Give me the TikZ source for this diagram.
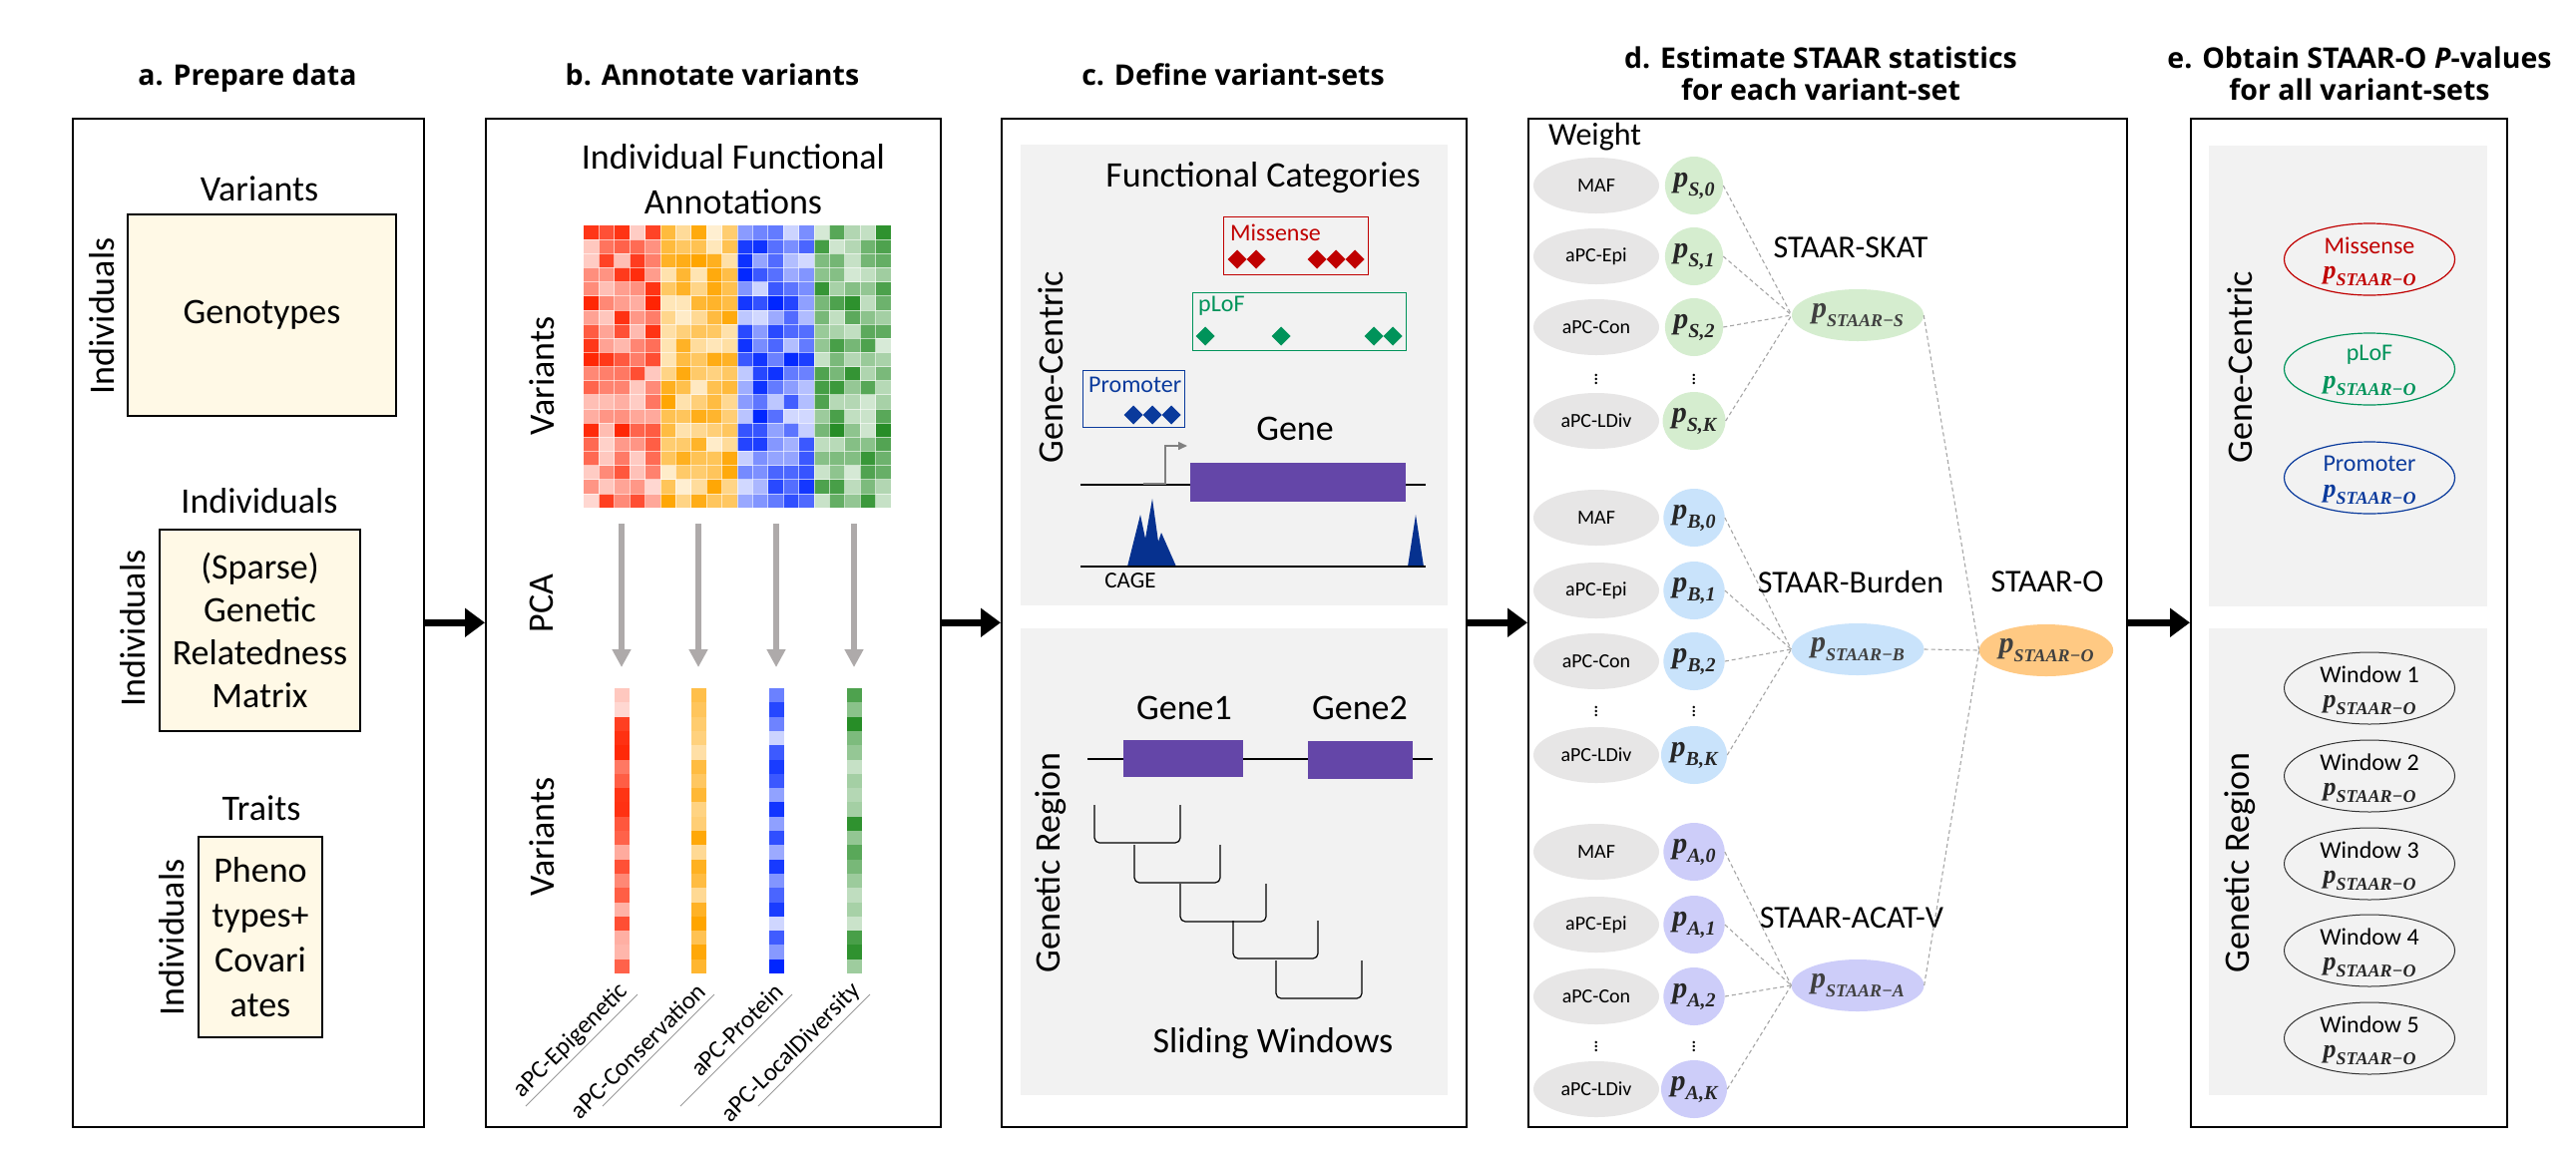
\documentclass[tikz,border=0pt]{standalone}
\usepackage{fontspec}
\setmainfont{Carlito}
\newfontfamily\titlefont{Open Sans}
\newfontfamily\mfont{Liberation Serif}
\usetikzlibrary{arrows.meta,shapes.geometric}

\definecolor{panelgray}{HTML}{F2F2F2}
\definecolor{cream}{HTML}{FFF9E6}
\definecolor{geneP}{HTML}{6446A8}
\definecolor{mred}{HTML}{C00000}
\definecolor{mgreen}{HTML}{00935A}
\definecolor{mblue}{HTML}{0A3A9C}
\definecolor{cage}{HTML}{06318F}
\definecolor{wgray}{HTML}{E7E6E6}
\definecolor{sgreen}{HTML}{D5EDCF}
\definecolor{bblue}{HTML}{C9E3FB}
\definecolor{apurple}{HTML}{CDCDF9}
\definecolor{oorange}{HTML}{FFC983}
\definecolor{arrowgray}{HTML}{AEAAAA}
\definecolor{hred}{HTML}{FF2200}
\definecolor{horange}{HTML}{FFA500}
\definecolor{hblue}{HTML}{0026FF}
\definecolor{hgreen}{HTML}{228B22}

\newcommand{\fsz}[2]{\fontsize{#1}{#2}\selectfont}
\newcommand{\pp}[3]{{\fsz{#1}{#1}\mfont\bfseries\itshape p\raisebox{-0.3em}{\fsz{#2}{#2}#3}}}

\tikzset{
 panel/.style={draw=black, line width=1.5, inner sep=0, anchor=north west},
 ttl/.style={font=\titlefont\bfseries\fsz{28.5}{33}, anchor=base, inner sep=0},
 body/.style={font=\fsz{36}{43}, inner sep=0, align=center},
 rot/.style={body, rotate=90},
 ybox/.style={draw=black, line width=1.2, fill=cream},
 bigarrow/.style={line width=7, -{Triangle[length=20pt,width=28pt]}},
 pcaarrow/.style={line width=6, draw=arrowgray, -{Triangle[length=18pt,width=18pt]}},
 wnode/.style={ellipse, fill=wgray, minimum width=126pt, minimum height=56pt, inner sep=0, font=\fsz{20}{24}},
 pnode/.style={ellipse, minimum width=56pt, minimum height=58pt, inner sep=0, text=black!85},
 snode/.style={ellipse, minimum width=132pt, minimum height=52pt, inner sep=0, text=black!75},
 conn/.style={draw=black!35, dash pattern=on 4pt off 3pt, line width=1.1},
 lab/.style={font=\fsz{32}{38}, inner sep=0},
 eres/.style={ellipse, minimum width=171pt, minimum height=72pt, inner sep=0, line width=1.2},
 etxt/.style={font=\fsz{24}{24}, inner sep=0},
 catbox/.style={line width=1.2, inner sep=0, anchor=north west},
 cattxt/.style={font=\fsz{24}{24}, inner sep=0, anchor=west},
 apclab/.style={font=\fsz{25}{25}, inner sep=0, anchor=east, rotate=45},
}

\begin{document}
\begin{tikzpicture}[x=1pt,y=-1pt]
\useasboundingbox (0,0) rectangle (2582,1152);
\fill[white] (0,0) rectangle (2582,1152);

% ---------- titles
\node[ttl] (ta) at (248,85) {a. Prepare data};
\node[ttl] (tb) at (714,85) {b. Annotate variants};
\node[ttl] (tc) at (1236,85) {c. Define variant-sets};
\node[ttl] (td1) at (1825,68) {d. Estimate STAAR statistics};
\node[ttl] (td2) at (1825,100) {for each variant-set};
\node[ttl] (te1) at (2365,68) {e. Obtain STAAR-O \textit{P}-values};
\node[ttl] (te2) at (2365,100) {for all variant-sets};

% ---------- panels
\node[panel, minimum width=352pt, minimum height=1011pt] (pa) at (72,118) {};
\node[panel, minimum width=456pt, minimum height=1011pt] (pb) at (486,118) {};
\node[panel, minimum width=466pt, minimum height=1011pt] (pc) at (1003,118) {};
\node[panel, minimum width=600pt, minimum height=1011pt] (pd) at (1531,118) {};
\node[panel, minimum width=317pt, minimum height=1011pt] (pe) at (2195,118) {};

\draw[bigarrow] (pa.east) -- (pb.west);
\draw[bigarrow] (pb.east) -- (pc.west);
\draw[bigarrow] (pc.east) -- (pd.west);
\draw[bigarrow] (pd.east) -- (pe.west);

% ---------- panel a
\node[body] (va) at (260,189) {Variants};
\node[ybox, body, minimum width=269pt, minimum height=202pt] (geno) at (262.5,316) {Genotypes};
\node[rot] (ia1) at (102,317) {Individuals};
\node[body] (ih) at (260,502) {Individuals};
\node[ybox, body, minimum width=201pt, minimum height=202pt] (grm) at (260.5,632) {(Sparse)\\Genetic\\Relatedness\\Matrix};
\node[rot] (ia2) at (133,630) {Individuals};
\node[body] (tr) at (262,810) {Traits};
\node[ybox, body, minimum width=124pt, minimum height=201pt, font=\fsz{36}{45}] (trb) at (261,939.5) {Pheno\\types+\\Covari\\ates};
\node[rot] (ia3) at (172,940) {Individuals};

% ---------- panel b
\node[body, font=\fsz{36}{45}] (ifa) at (735,180) {Individual Functional\\Annotations};
\pgfmathsetseed{11}
\foreach \blk/\hc in {0/hred,1/horange,2/hblue,3/hgreen}{
  \foreach \c in {0,...,4}{
    \foreach \r in {0,...,19}{
      \pgfmathrandominteger{\p}{18}{100}
      \fill[\hc!\p!white] ({585+77*\blk+15.4*\c},{226+14.15*\r}) rectangle ++(15.4,14.15);
    }}}
\foreach \i in {1,...,19}{
  \draw[white, line width=0.7, opacity=0.6] ({585+15.4*\i},226) -- ({585+15.4*\i},509);
  \draw[white, line width=0.7, opacity=0.6] (585,{226+14.15*\i}) -- (893,{226+14.15*\i});
}
\node[rot] (vb1) at (543,377) {Variants};
\node[rot] (pca) at (543,605) {PCA};
\node[rot] (vb2) at (543,839) {Variants};
\foreach \hc/\cx in {hred/623,horange/700,hblue/778,hgreen/856}{
  \draw[pcaarrow] (\cx,525) -- (\cx,669);
  \foreach \r in {0,...,19}{
    \pgfmathrandominteger{\p}{18}{100}
    \fill[\hc!\p!white] ({\cx-7.5},{690+14.3*\r}) rectangle ++(15,14.3);
  }
  \draw[black!40, line width=0.9] ({\cx+16},997) -- ({\cx-96},1109);
}
\node[apclab] (l1) at (626,990) {aPC-Epigenetic};
\node[apclab] (l2) at (703,990) {aPC-Conservation};
\node[apclab] (l3) at (781,990) {aPC-Protein};
\node[apclab] (l4) at (859,990) {aPC-LocalDiversity};

% ---------- panel c
\fill[panelgray] (1023,145) rectangle (1451,607);
\fill[panelgray] (1023,630) rectangle (1451,1098);
\node[rot] (gc1) at (1053,368) {Gene-Centric};
\node[rot] (gr1) at (1053,865) {Genetic Region};
\node[body] (fc) at (1266,178) {Functional Categories};
\node[catbox, draw=mred, minimum width=145pt, minimum height=58pt] (mis) at (1226,217) {};
\node[cattxt, text=mred] (mist) at (1233,233) {Missense};
\foreach \x in {1240,1259,1320,1339,1358}
  \fill[mred] (\x,250.5) -- ({\x+9.5},260) -- (\x,269.5) -- ({\x-9.5},260) -- cycle;
\node[catbox, draw=mgreen, minimum width=214pt, minimum height=58pt] (plof) at (1195,293) {};
\node[cattxt, text=mgreen] (plt) at (1201,307) {pLoF};
\foreach \x in {1208,1284,1377,1396}
  \fill[mgreen] (\x,327.5) -- ({\x+9.5},337) -- (\x,346.5) -- ({\x-9.5},337) -- cycle;
\node[catbox, draw=mblue, minimum width=102pt, minimum height=57pt] (prom) at (1085,371) {};
\node[cattxt, text=mblue] (prt) at (1091,386) {Promoter};
\foreach \x in {1136,1155,1174}
  \fill[mblue] (\x,406.5) -- ({\x+9.5},416) -- (\x,425.5) -- ({\x-9.5},416) -- cycle;
\node[body] (gene) at (1298,430) {Gene};
\draw[line width=1.2] (1083,486) -- (1429,486);
\fill[geneP] (1193,464) rectangle (1409,503);
\draw[black!50, line width=1.5, -{Triangle[length=9pt,width=8pt]}] (1146,485) -- (1168,485) -- (1168,447) -- (1190,447);
\fill[cage] (1130,568) -- (1143,516) -- (1148,540) -- (1155,500) -- (1161,543) -- (1164,534) -- (1179,568) -- cycle;
\fill[cage] (1411,568) -- (1419,516) -- (1427,568) -- cycle;
\draw[line width=1.2] (1083,568) -- (1429,568);
\node[font=\fsz{23}{23}, inner sep=0] (cg) at (1133,582) {CAGE};

\node[body] (g1) at (1187,710) {Gene1};
\node[body] (g2) at (1363,710) {Gene2};
\draw[line width=1.2] (1090,761) -- (1436,761);
\fill[geneP] (1126,742) rectangle (1246,779);
\fill[geneP] (1311,743) rectangle (1416,781);
\foreach \xa/\ya/\xb/\yb in {1097/807/1183/845, 1137/847/1223/885, 1183/886/1269/924, 1236/923/1321/961, 1279/963/1365/1001}
  \draw[line width=1.2, rounded corners=5] (\xa,\ya) -- (\xa,\yb) -- (\xb,\yb) -- (\xb,\ya);
\node[body] (sw) at (1276,1046) {Sliding Windows};

% ---------- panel d
\node[lab, anchor=west] (wt) at (1552,137) {Weight};
\foreach \g/\col/\ya/\yb/\yc/\yd/\ye in {S/sgreen/186/257/328/377/422, B/bblue/519/592/663/710/757, A/apurple/854/927/999/1046/1092}{
  \node[wnode] (w\g0) at (1600,\ya) {MAF};
  \node[wnode] (w\g1) at (1600,\yb) {aPC-Epi};
  \node[wnode] (w\g2) at (1600,\yc) {aPC-Con};
  \node[font=\fsz{20}{20}, inner sep=0] (dw\g) at (1600,\yd) {$\vdots$};
  \node[wnode] (w\g K) at (1600,\ye) {aPC-LDiv};
  \node[pnode, fill=\col] (p\g0) at (1698,\ya) {\pp{30}{20}{\g,0}};
  \node[pnode, fill=\col] (p\g1) at (1698,\yb) {\pp{30}{20}{\g,1}};
  \node[pnode, fill=\col] (p\g2) at (1698,\yc) {\pp{30}{20}{\g,2}};
  \node[font=\fsz{20}{20}, inner sep=0] (dp\g) at (1698,\yd) {$\vdots$};
  \node[pnode, fill=\col] (p\g K) at (1698,\ye) {\pp{30}{20}{\g,K}};
}
\node[lab] (lS) at (1855,248) {STAAR-SKAT};
\node[snode, fill=sgreen] (sS) at (1862,316) {\pp{30}{18}{STAAR−S}};
\node[lab] (lB) at (1855,583) {STAAR-Burden};
\node[snode, fill=bblue] (sB) at (1862,651) {\pp{30}{18}{STAAR−B}};
\node[lab] (lA) at (1856,920) {STAAR-ACAT-V};
\node[snode, fill=apurple] (sA) at (1862,988) {\pp{30}{18}{STAAR−A}};
\node[lab] (lO) at (2052,583) {STAAR-O};
\node[snode, fill=oorange] (sO) at (2051,652) {\pp{30}{18}{STAAR−O}};
\foreach \g in {S,B,A}{
  \foreach \k in {0,1,2,K}
    \draw[conn] (p\g\k.east) -- (s\g.west);
  \draw[conn] (s\g.east) -- (sO.west);
}

% ---------- panel e
\fill[panelgray] (2214,146) rectangle (2493,608);
\fill[panelgray] (2214,630) rectangle (2493,1098);
\node[rot] (gc2) at (2245,368) {Gene-Centric};
\node[rot] (gr2) at (2245,865) {Genetic Region};
\foreach \nm/\txt/\col/\yy in {eM/Missense/mred/260, eL/pLoF/mgreen/370, eP/Promoter/mblue/479}{
  \node[eres, draw=\col] (\nm) at (2375,\yy) {};
  \node[etxt, text=\col] (\nm t) at (2375,{\yy-14}) {\txt};
  \node[inner sep=0, text=\col] (\nm p) at (2375,{\yy+17}) {\pp{26}{18}{STAAR−O}};
}
\foreach \i/\yy in {1/690,2/778,3/866,4/953,5/1041}{
  \node[eres, draw=black!80, line width=1] (win\i) at (2375,\yy) {};
  \node[etxt] (win\i t) at (2375,{\yy-14}) {Window \i};
  \node[inner sep=0, text=black!85] (win\i p) at (2375,{\yy+17}) {\pp{26}{18}{STAAR−O}};
}
\end{tikzpicture}
\end{document}
